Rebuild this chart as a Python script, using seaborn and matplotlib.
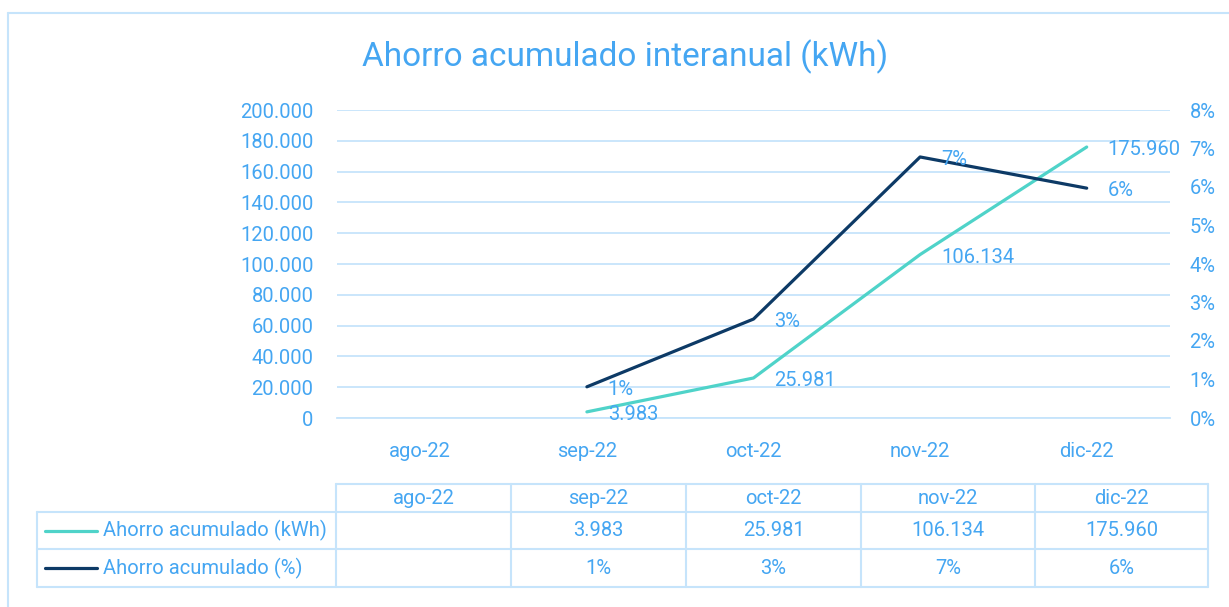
import numpy as np
import matplotlib
matplotlib.use("Agg")
import matplotlib.pyplot as plt
from matplotlib import font_manager
from matplotlib.lines import Line2D
import seaborn as sns

# datos
months = ["ago-22", "sep-22", "oct-22", "nov-22", "dic-22"]
ahorro_kwh = [np.nan, 3983, 25981, 106134, 175960]
ahorro_pct = [np.nan, 0.81, 2.57, 6.78, 5.97]   # en %
series_names = ["Ahorro acumulado (kWh)", "Ahorro acumulado (%)"]
left_ticks = list(range(0, 200001, 20000))
right_ticks = list(range(0, 9))

TXT = "#45A6F2"
GRID = "#C6E4FB"
C_KWH = "#4FD3C9"
C_PCT = "#0D3A66"

sns.set_style("white")
names = {f.name for f in font_manager.fontManager.ttflist}
fam = [f for f in ["Liberation Sans Narrow", "Roboto", "DejaVu Sans"] if f in names]
plt.rcParams["font.family"] = fam + ["DejaVu Sans"]


def fmt_num(v):
    return f"{v:,.0f}".replace(",", ".")


W, H = 1229, 607
fig = plt.figure(figsize=(W / 100, H / 100), dpi=100)

fig.text(625 / W, 1 - 57 / H, "Ahorro acumulado interanual (kWh)", color=TXT,
         fontsize=24, ha="center", va="center")

ax = fig.add_axes([337 / W, 189 / H, 833 / W, 308 / H])
ax2 = ax.twinx()
x = np.arange(len(months))

sns.lineplot(x=x, y=ahorro_kwh, ax=ax, color=C_KWH, linewidth=2.3)
sns.lineplot(x=x, y=ahorro_pct, ax=ax2, color=C_PCT, linewidth=2.3)

ax.set_xlim(-0.5, len(months) - 0.5)
ax.set_ylim(0, 200000)
ax2.set_ylim(0, 8)
ax.set_yticks(left_ticks)
ax.set_yticklabels([fmt_num(v) for v in left_ticks])
ax2.set_yticks(right_ticks)
ax2.set_yticklabels([f"{v}%" for v in right_ticks])
ax.set_xticks(x)
ax.set_xticklabels(months)
ax.set_xticks(np.arange(-0.5, len(months)), minor=True)

ax.grid(axis="y", color=GRID, linewidth=1.3)
ax.set_axisbelow(True)
for a in (ax, ax2):
    for s in a.spines.values():
        s.set_visible(False)
ax.spines["bottom"].set_visible(True)
ax.spines["bottom"].set_color(GRID)
ax.spines["bottom"].set_linewidth(1.3)

ax.tick_params(axis="y", length=0, pad=17, labelsize=14.5, labelcolor=TXT)
ax2.tick_params(axis="y", length=0, pad=14, labelsize=14.5, labelcolor=TXT)
ax.tick_params(axis="x", which="major", length=0, pad=17, labelsize=14.5, labelcolor=TXT)
ax.tick_params(axis="x", which="minor", length=7, width=1.3, color=GRID)

# etiquetas de datos
for xi, v in zip(x, ahorro_kwh):
    if not np.isnan(v):
        ax.annotate(fmt_num(v), (xi, v), xytext=(15, -2), textcoords="offset points",
                    color=TXT, fontsize=14.5, va="center", ha="left")
for xi, v in zip(x, ahorro_pct):
    if not np.isnan(v):
        ax2.annotate(f"{v:.0f}%", (xi, v), xytext=(15, -2), textcoords="offset points",
                     color=TXT, fontsize=14.5, va="center", ha="left")

# capa para marco y tabla de datos (coordenadas en pixeles)
axt = fig.add_axes([0, 0, 1, 1])
axt.set_xlim(0, W)
axt.set_ylim(H, 0)
axt.axis("off")
axt.patch.set_alpha(0)

# marco exterior (solo se ve arriba y a la izquierda)
axt.plot([7.5, W], [12.5, 12.5], color=GRID, lw=1.5)
axt.plot([7.5, 7.5], [12.5, H], color=GRID, lw=1.5)

cols = [37, 336, 511, 686, 861, 1035, 1208]
rows = [484, 512, 549, 587]
lw = 1.5
# lineas horizontales
axt.plot([cols[1], cols[-1]], [rows[0], rows[0]], color=GRID, lw=lw)
for r in rows[1:]:
    axt.plot([cols[0], cols[-1]], [r, r], color=GRID, lw=lw)
# lineas verticales
axt.plot([cols[0], cols[0]], [rows[1], rows[-1]], color=GRID, lw=lw)
for c in cols[1:]:
    axt.plot([c, c], [rows[0], rows[-1]], color=GRID, lw=lw)

fs = 14.5
for i, m in enumerate(months):
    cx = (cols[i + 1] + cols[i + 2]) / 2
    axt.text(cx, (rows[0] + rows[1]) / 2, m, color=TXT, fontsize=fs, ha="center", va="center")
    if not np.isnan(ahorro_kwh[i]):
        axt.text(cx, (rows[1] + rows[2]) / 2, fmt_num(ahorro_kwh[i]), color=TXT,
                 fontsize=fs, ha="center", va="center")
    if not np.isnan(ahorro_pct[i]):
        axt.text(cx, (rows[2] + rows[3]) / 2, f"{ahorro_pct[i]:.0f}%", color=TXT,
                 fontsize=fs, ha="center", va="center")

for j, (name, col) in enumerate(zip(series_names, [C_KWH, C_PCT])):
    cy = (rows[j + 1] + rows[j + 2]) / 2
    axt.add_line(Line2D([45, 97], [cy, cy], color=col, lw=2.3))
    axt.text(103, cy, name, color=TXT, fontsize=fs, ha="left", va="center")

fig.savefig("out.png", dpi=100)
